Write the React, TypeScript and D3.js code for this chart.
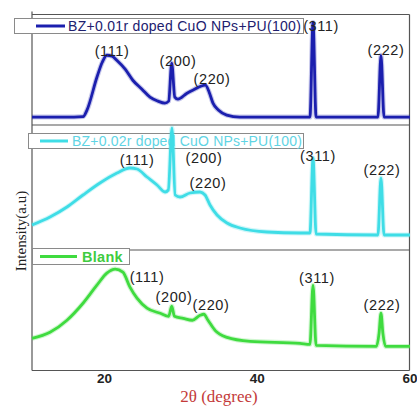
import React from "react";
import * as d3 from "d3";

// ---- data (2θ in degrees, intensity in panel units 0..100) ----
const blueTheta = [10.5, 16.0, 17.2, 17.7, 19.0, 19.7, 20.3, 21.0, 21.6, 22.7, 23.7, 24.9, 25.95, 27.0, 27.9, 28.4, 28.8, 29.2, 29.6, 30.8, 31.8, 32.6, 33.2, 33.7, 34.2, 34.9, 36.0, 37.7, 46.9, 47.3, 47.7, 55.8, 56.2, 56.6, 60.0];
const blueIntensity = [7.2, 7.2, 7.6, 13.5, 43.2, 56.8, 63.1, 62.2, 58.6, 50.5, 40.5, 32.4, 25.2, 21.6, 19.8, 21.6, 55.9, 25.2, 23.4, 28.8, 32.4, 35.1, 36.0, 29.7, 19.8, 13.5, 9.0, 7.2, 7.2, 92.8, 7.2, 7.2, 63.1, 7.2, 7.2];

const cyanTheta = [10.5, 12.86, 15.08, 17.18, 19.4, 21.63, 23.33, 24.25, 25.56, 26.87, 27.92, 28.35, 28.83, 29.25, 29.88, 31.19, 32.5, 33.16, 33.81, 34.73, 36.04, 37.74, 41.28, 45.6, 46.9, 47.3, 47.7, 55.8, 56.2, 56.6, 60.0];
const cyanIntensity = [20, 26.4, 34.4, 44, 53.6, 61.6, 65.6, 64.8, 58.4, 52, 46.4, 48, 97.6, 44, 42.4, 45.6, 46.4, 44, 36, 28, 21.6, 17.6, 14.4, 13.6, 13.6, 73.6, 12.8, 12, 57.6, 12, 12];

const greenTheta = [10.5, 12.86, 15.08, 17.18, 19.0, 20.3, 21.4, 22.4, 23.33, 24.25, 25.56, 27.3, 28.4, 28.8, 29.15, 30.3, 31.5, 32.5, 33.0, 33.55, 34.47, 36.04, 39.05, 45.6, 46.9, 47.3, 47.7, 55.6, 55.95, 56.2, 56.45, 56.8, 60.0];
const greenIntensity = [26.7, 31.7, 41.7, 55.8, 70.8, 80.8, 84.2, 81.7, 69.2, 60, 51.7, 47.5, 45, 53.3, 45, 43.3, 41.7, 45.8, 46.7, 41.7, 33.3, 27.5, 24.2, 22.5, 21.7, 70.8, 20.8, 20, 30.8, 47.5, 30.8, 20, 20];

const peakNames = ["(111)", "(200)", "(220)", "(311)", "(222)"];
const blueLabelTheta = [20.98, 29.62, 34.07, 48.35, 56.86];
const blueLabelY = [62.2, 53.2, 36.9, 84.7, 63.1];
const cyanLabelTheta = [24.25, 33.03, 33.55, 47.95, 56.34];
const cyanLabelY = [68, 69.6, 49.6, 71.2, 60];
const greenLabelTheta = [25.56, 29.1, 33.94, 47.82, 56.34];
const greenLabelY = [73.3, 56.7, 50, 72.5, 50];

const seriesNames = ["BZ+0.01r doped CuO NPs+PU(100)", "BZ+0.02r doped CuO NPs+PU(100)", "Blank"];
const xTicks = [20, 40, 60];

const W = 417;
const H = 410;
const left = 32;
const right = 409.5;
const top = 14.5;
const bottom = 370.5;

const x = d3.scaleLinear().domain([10.5, 60]).range([32, 410]);

const panels = [
  { top: 14.5, bottom: 125, color: "#1b1fae", theta: blueTheta, y: blueIntensity, lt: blueLabelTheta, ly: blueLabelY },
  { top: 125, bottom: 250, color: "#3fdde6", theta: cyanTheta, y: cyanIntensity, lt: cyanLabelTheta, ly: cyanLabelY },
  { top: 250, bottom: 370.5, color: "#3fdb3f", theta: greenTheta, y: greenIntensity, lt: greenLabelTheta, ly: greenLabelY },
];

const legends = [
  { x: 14.5, y: 18.5, w: 289, h: 15, lx1: 36, lx2: 65, tx: 68, ty: 30.5, fs: 14, ls: 0.3, fw: "normal", color: "#1b1fae", tc: "#20206e" },
  { x: 28.5, y: 133.5, w: 275, h: 15, lx1: 40, lx2: 68, tx: 72, ty: 145.5, fs: 14, ls: 0.2, fw: "normal", color: "#3fdde6", tc: "#5fd4e4" },
  { x: 32.5, y: 248.5, w: 97, h: 16, lx1: 40, lx2: 77, tx: 82, ty: 262, fs: 14.5, ls: 0.3, fw: "bold", color: "#3fdb3f", tc: "#3fcc3f" },
];

export default function App() {
  return (
    <svg
      width={W}
      height={H}
      viewBox={`0 0 ${W} ${H}`}
      style={{ position: "absolute", left: 0, top: 0, background: "#fff", display: "block" }}
    >
      <rect x={0} y={0} width={W} height={H} fill="#fff" />
      {/* frame */}
      <g stroke="#555" strokeWidth={1.2} fill="none">
        <line x1={left} y1={top - 3} x2={left} y2={bottom} />
        <line x1={left} y1={bottom} x2={right} y2={bottom} />
        <line x1={right} y1={top} x2={right} y2={bottom} />
        <line x1={left} y1={top} x2={right} y2={top} />
        <line x1={left} y1={125} x2={right} y2={125} />
        <line x1={left} y1={250} x2={right} y2={250} />
      </g>
      {/* legends */}
      {legends.map((l, i) => (
        <g key={i}>
          <rect x={l.x} y={l.y} width={l.w} height={l.h} fill="#fff" stroke="#8a8a8a" strokeWidth={1} />
          <line x1={l.lx1} x2={l.lx2} y1={l.y + l.h / 2} y2={l.y + l.h / 2} stroke={l.color} strokeWidth={3} />
          <text
            x={l.tx}
            y={l.ty}
            fontFamily="Arial, Liberation Sans, sans-serif"
            fontSize={l.fs}
            letterSpacing={l.ls}
            fontWeight={l.fw}
            fill={l.tc}
          >
            {seriesNames[i]}
          </text>
        </g>
      ))}
      {panels.map((p, i) => {
        const y = d3.scaleLinear().domain([0, 100]).range([p.bottom, p.top]);
        const line = d3
          .line<number>()
          .x((_, k) => x(p.theta[k]))
          .y((d) => y(d))
          .curve(d3.curveMonotoneX);
        const d = line(p.y) || "";
        return (
          <g key={i}>
            <path d={d} fill="none" stroke={p.color} strokeWidth={5} strokeOpacity={0.25} strokeLinejoin="round" />
            <path d={d} fill="none" stroke={p.color} strokeWidth={2.8} strokeLinejoin="round" />
            {peakNames.map((n, k) => (
              <text
                key={k}
                x={x(p.lt[k])}
                y={y(p.ly[k])}
                textAnchor="middle"
                fontFamily="Arial, Liberation Sans, sans-serif"
                fontSize={14.5}
                letterSpacing={0.6}
                fill="#222"
              >
                {n}
              </text>
            ))}
          </g>
        );
      })}
      {/* x ticks */}
      {xTicks.map((t) => (
        <text
          key={t}
          x={x(t)}
          y={382.5}
          textAnchor="middle"
          fontFamily="Arial, Liberation Sans, sans-serif"
          fontSize={13.5}
          fontWeight="bold"
          fill="#222"
        >
          {t}
        </text>
      ))}
      <text x={219} y={402} textAnchor="middle" fontFamily="Liberation Serif, Times New Roman, serif" fontSize={17} fill="#c43a3a">
        2θ (degree)
      </text>
      <text
        transform="translate(26,231) rotate(-90)"
        textAnchor="middle"
        fontFamily="Liberation Serif, Times New Roman, serif"
        fontSize={15}
        fill="#222"
      >
        Intensity(a.u)
      </text>
    </svg>
  );
}
